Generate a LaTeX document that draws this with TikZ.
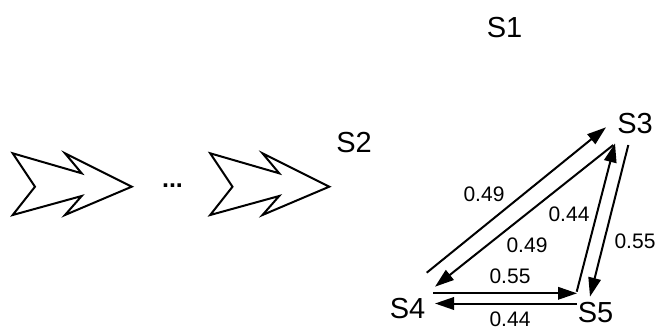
\documentclass[tikz,border=0pt]{standalone}
\usepackage{fontspec}
\setmainfont{Liberation Sans}
\usetikzlibrary{arrows.meta}
\begin{document}
\begin{tikzpicture}[x=1pt,y=-1pt,
  st/.style={font=\fontsize{29}{32}\selectfont, inner sep=0pt},
  lb/.style={font=\fontsize{21}{24}\selectfont, inner sep=0pt},
  tr/.style={line width=2pt, -{Triangle[length=19pt,width=12.5pt]}},
  chev/.style={line width=2pt, line join=miter, fill=white}]
\useasboundingbox (0,0) rectangle (664,333);
% double chevron arrows
\foreach \dx in {0,197.5}{
  \draw[chev, shift={(\dx,0)}] (12.7,153.3) -- (81.7,173.3) -- (65,153.3) -- (131.7,186.7)
     -- (65,215) -- (81.7,196) -- (12.7,215) -- (35,186.7) -- cycle;
}
\node[font=\bfseries\fontsize{25}{28}\selectfont, inner sep=0pt, anchor=base] (dots) at (172.5,187) {...};
% state labels
\node[st] (s1) at (504.5,28) {S1};
\node[st] (s2) at (354,143) {S2};
\node[st] (s3) at (635,124) {S3};
\node[st] (s4) at (407.5,309) {S4};
\node[st] (s5) at (595.5,312.5) {S5};
% connector end points
\coordinate (a1) at (426.7,272.7); \coordinate (b1) at (606,127.3);
\coordinate (a2) at (613.3,145);   \coordinate (b2) at (435,286.7);
\coordinate (a3) at (576.7,291.7); \coordinate (b3) at (615,143.3);
\coordinate (a4) at (628.3,145);   \coordinate (b4) at (590,296.7);
\coordinate (a5) at (433,293.3);   \coordinate (b5) at (577,293.3);
\coordinate (a6) at (577,303.5);   \coordinate (b6) at (435,303.5);
\draw[tr] (a1) -- (b1);
\draw[tr] (a2) -- (b2);
\draw[tr] (a3) -- (b3);
\draw[tr] (a4) -- (b4);
\draw[tr] (a5) -- (b5);
\draw[tr] (a6) -- (b6);
% labels
\node[lb] (l1) at (484,194.5) {0.49};
\node[lb] (l2) at (569,214.5) {0.44};
\node[lb] (l3) at (527,245) {0.49};
\node[lb] (l4) at (635,241) {0.55};
\node[lb] (l5) at (510,276.5) {0.55};
\node[lb] (l6) at (510,319.5) {0.44};
\end{tikzpicture}
\end{document}
